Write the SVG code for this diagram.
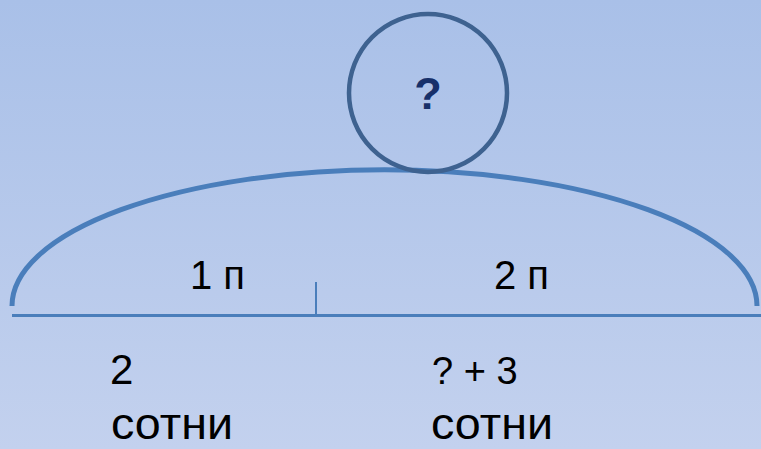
<svg xmlns="http://www.w3.org/2000/svg" width="761" height="449" viewBox="0 0 761 449">
<defs>
<linearGradient id="bg" x1="0" y1="0" x2="0" y2="1">
<stop offset="0" stop-color="#a9c0e8"/>
<stop offset="1" stop-color="#c3d1ee"/>
</linearGradient>
<style>
.t{font-family:"Liberation Sans",Arial,sans-serif;fill:#000}
.ln{stroke:#4a7ebb;fill:none}
</style>
</defs>
<rect width="761" height="449" fill="url(#bg)"/>
<g id="connectors">
<path class="ln" stroke-width="5" d="M12,306 A372,136 0 0 1 757,306"/>
<line class="ln" stroke-width="3" x1="12" y1="315.5" x2="761" y2="315.5"/>
<line class="ln" stroke-width="2" x1="316" y1="282" x2="316" y2="315"/>
</g>
<g id="circle">
<circle cx="428" cy="93" r="79" fill="none" stroke="#3e6290" stroke-width="4.5"/>
<text x="428" y="109" text-anchor="middle" font-family="Liberation Sans,Arial,sans-serif" font-weight="bold" font-size="45" fill="#17306a">?</text>
</g>
<g id="label-1p"><text class="t" x="190" y="289" font-size="40">1 п</text></g>
<g id="label-2p"><text class="t" x="494" y="289" font-size="40">2 п</text></g>
<g id="label-left">
<text class="t" x="110" y="384" font-size="42">2</text>
<text class="t" x="111" y="439" font-size="45" textLength="122" lengthAdjust="spacingAndGlyphs">сотни</text>
</g>
<g id="label-right">
<text class="t" x="432" y="384" font-size="38">? + 3</text>
<text class="t" x="431" y="439" font-size="45" textLength="122" lengthAdjust="spacingAndGlyphs">сотни</text>
</g>
</svg>
